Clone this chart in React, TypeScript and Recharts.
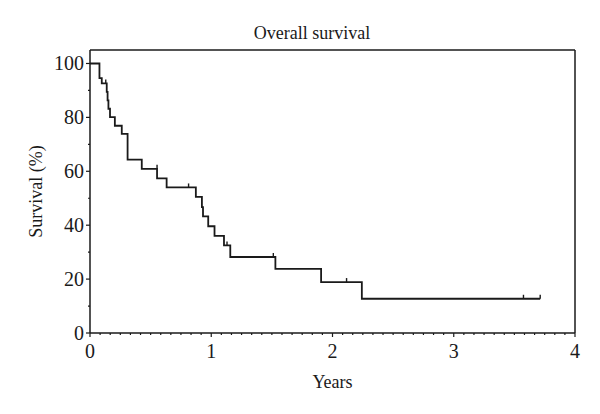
import { ComposedChart, Line, Scatter, XAxis, YAxis, ReferenceLine } from 'recharts'

// Kaplan-Meier step points (years, survival %)
const times = [0, 0.078, 0.097, 0.138, 0.145, 0.152, 0.165, 0.205, 0.262, 0.31, 0.427, 0.553, 0.632, 0.873, 0.923, 0.932, 0.975, 1.027, 1.105, 1.157, 1.529, 1.906, 2.242, 3.713]
const survival = [100, 94.6, 92.6, 89.5, 86.3, 83.2, 80.1, 76.9, 73.9, 64.3, 60.9, 57.4, 54.0, 50.5, 46.7, 43.3, 39.6, 36.0, 32.5, 28.2, 23.8, 18.9, 12.7, 12.7]

// censored observations
const censorTimes = [0.13, 0.553, 0.813, 1.13, 1.512, 2.116, 3.575, 3.713]
const censorSurvival = [92.6, 60.9, 54.0, 32.5, 28.2, 18.9, 12.7, 12.7]

const xMajorTicks = [0, 1, 2, 3, 4]
const yMajorTicks = [0, 20, 40, 60, 80, 100]
const monthsPerYear = 12
const yMinorStep = 10

const FONT = '"Liberation Serif", "DejaVu Serif", serif'
const INK = '#1a1a1a'

const curve = times.map((t, i) => ({ t, s: survival[i] }))
const censored = censorTimes.map((t, i) => ({ t, s: censorSurvival[i] }))

const xTicks: number[] = []
for (let i = 0; i <= xMajorTicks[xMajorTicks.length - 1] * monthsPerYear; i++) xTicks.push(i / monthsPerYear)
const yTicks: number[] = []
for (let v = 0; v <= yMajorTicks[yMajorTicks.length - 1]; v += yMinorStep) yTicks.push(v)

function XTick(props: any) {
  const { x, y, payload } = props
  const v = payload.value
  const major = xMajorTicks.some((m) => Math.abs(m - v) < 1e-6)
  return (
    <g>
      <line x1={x} x2={x} y1={y} y2={y + (major ? 4 : 2)} stroke={INK} strokeWidth={1.2} />
      {major && (
        <text x={x} y={y + 25} textAnchor="middle" fontFamily={FONT} fontSize={20} fill={INK}>
          {Math.round(v)}
        </text>
      )}
    </g>
  )
}

function YTick(props: any) {
  const { x, y, payload } = props
  const v = payload.value
  const major = yMajorTicks.includes(v)
  return (
    <g>
      <line x1={x} x2={x - (major ? 4 : 2)} y1={y} y2={y} stroke={INK} strokeWidth={1.2} />
      {major && (
        <text x={x - 6} y={y + 7} textAnchor="end" fontFamily={FONT} fontSize={20} fill={INK}>
          {v}
        </text>
      )}
    </g>
  )
}

function CensorMark(props: any) {
  const { cx, cy } = props
  return <line x1={cx} x2={cx} y1={cy} y2={cy - 4} stroke={INK} strokeWidth={1.4} />
}

export default function App() {
  return (
    <div style={{ position: 'absolute', left: 0, top: 0, width: 600, height: 414, background: '#fff' }}>
      <div
        style={{
          position: 'absolute',
          left: 212,
          width: 200,
          top: 23,
          textAlign: 'center',
          fontFamily: FONT,
          fontSize: 18,
          lineHeight: '20px',
          color: INK,
        }}
      >
        Overall survival
      </div>
      <ComposedChart width={600} height={414} margin={{ top: 50, right: 25, bottom: 0, left: 30 }}>
        <XAxis
          type="number"
          dataKey="t"
          domain={[0, 4]}
          ticks={xTicks}
          interval={0}
          tick={<XTick />}
          tickLine={false}
          tickSize={0}
          tickMargin={0}
          height={81}
          axisLine={{ stroke: INK, strokeWidth: 1.5 }}
          label={{ value: 'Years', position: 'insideBottom', offset: 26, fontFamily: FONT, fontSize: 18, fill: INK }}
        />
        <YAxis
          type="number"
          domain={[0, 105]}
          ticks={yTicks}
          interval={0}
          tick={<YTick />}
          tickLine={false}
          tickSize={0}
          tickMargin={0}
          width={60}
          axisLine={{ stroke: INK, strokeWidth: 1.5 }}
          label={{
            value: 'Survival (%)',
            angle: -90,
            position: 'insideLeft',
            offset: 6,
            style: { textAnchor: 'middle', fontFamily: FONT, fontSize: 18, fill: INK },
          }}
        />
        <ReferenceLine y={105} stroke={INK} strokeWidth={1.5} />
        <ReferenceLine x={4} stroke={INK} strokeWidth={1.5} />
        <Line
          data={curve}
          dataKey="s"
          type="stepAfter"
          stroke={INK}
          strokeWidth={1.8}
          dot={false}
          isAnimationActive={false}
        />
        <Scatter data={censored} dataKey="s" shape={<CensorMark />} isAnimationActive={false} />
      </ComposedChart>
    </div>
  )
}
